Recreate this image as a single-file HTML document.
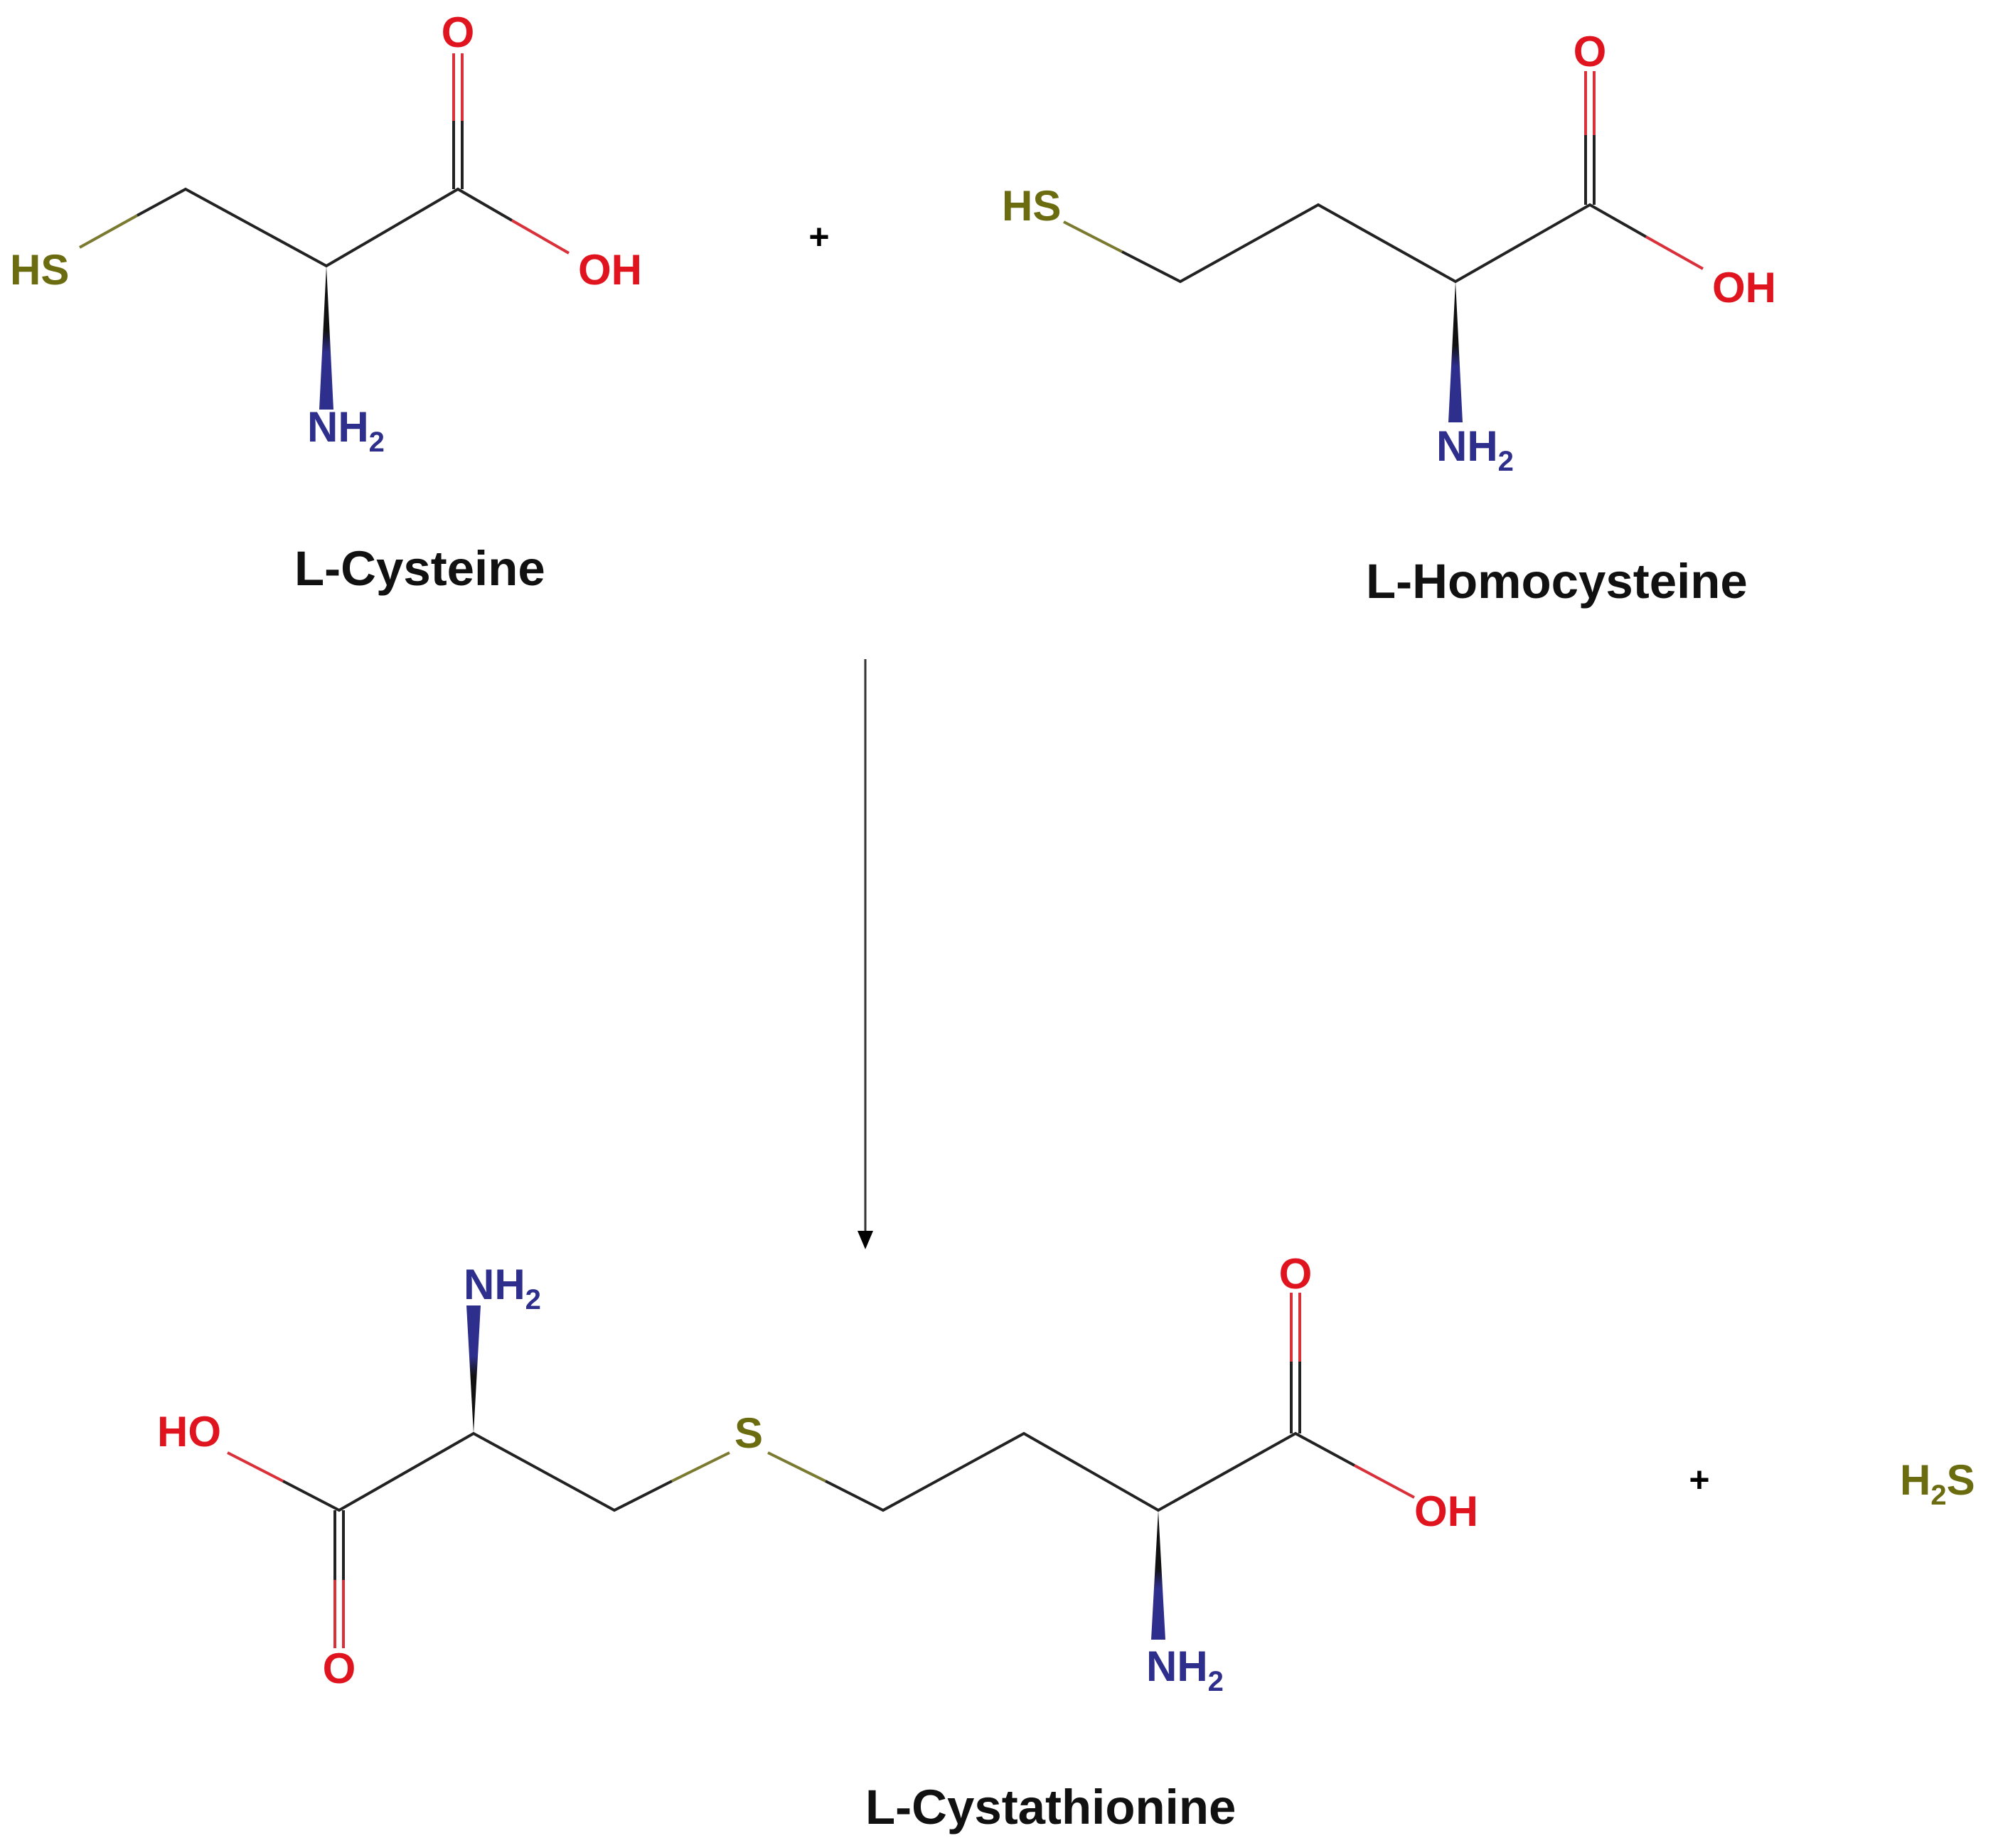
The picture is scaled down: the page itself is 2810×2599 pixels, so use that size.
<!DOCTYPE html>
<html><head><style>
html,body{margin:0;padding:0;background:#fff;}
svg{display:block;}
text{font-family:"Liberation Sans",sans-serif;}
.a{font-size:60px;font-weight:bold;}
.l{font-size:69px;font-weight:bold;fill:#111;}
.s{fill:#6b6b10;} .o{fill:#e0141e;} .n{fill:#2e2e8c;}
.b{stroke:#222;stroke-width:4;fill:none;}
.sb{stroke:#7a7a30;stroke-width:4;}
.ob{stroke:#d9303a;stroke-width:4;}
</style></head><body>
<svg width="2810" height="2599" viewBox="0 0 2810 2599" xmlns="http://www.w3.org/2000/svg">
<defs>
<linearGradient id="wd" x1="0" y1="0" x2="0" y2="1"><stop offset="0" stop-color="#111"/><stop offset="0.45" stop-color="#111"/><stop offset="0.6" stop-color="#2e2e8c"/><stop offset="1" stop-color="#2e2e8c"/></linearGradient>
<linearGradient id="wu" x1="0" y1="1" x2="0" y2="0"><stop offset="0" stop-color="#111"/><stop offset="0.45" stop-color="#111"/><stop offset="0.6" stop-color="#2e2e8c"/><stop offset="1" stop-color="#2e2e8c"/></linearGradient>
</defs>

<!-- L-Cysteine -->
<line class="sb" x1="112" y1="348" x2="193" y2="303"/>
<polyline class="b" points="193,303 261,266 459,374 644,266 720,310"/>
<line class="ob" x1="720" y1="310" x2="800" y2="356"/>
<line class="b" x1="638" y1="266" x2="638" y2="170"/><line class="b" x1="650" y1="266" x2="650" y2="170"/>
<line class="ob" x1="638" y1="170" x2="638" y2="75"/><line class="ob" x1="650" y1="170" x2="650" y2="75"/>
<polygon points="459,374 449,576 469,576" fill="url(#wd)"/>
<text class="a s" x="14" y="400">HS</text>
<text class="a o" x="644" y="66" text-anchor="middle">O</text>
<text class="a o" x="813" y="400">OH</text>
<text class="a n" x="432" y="621">NH<tspan font-size="40" dy="14">2</tspan></text>
<text class="l" x="414" y="823">L-Cysteine</text>

<text x="1152" y="350" font-size="50" font-weight="bold" text-anchor="middle" fill="#000">+</text>

<!-- L-Homocysteine -->
<line class="sb" x1="1496" y1="312" x2="1578" y2="354"/>
<polyline class="b" points="1578,354 1660,396 1854,288 2047,396 2236,288 2315,333"/>
<line class="ob" x1="2315" y1="333" x2="2395" y2="378"/>
<line class="b" x1="2230" y1="288" x2="2230" y2="190"/><line class="b" x1="2242" y1="288" x2="2242" y2="190"/>
<line class="ob" x1="2230" y1="190" x2="2230" y2="100"/><line class="ob" x1="2242" y1="190" x2="2242" y2="100"/>
<polygon points="2047,396 2037,594 2057,594" fill="url(#wd)"/>
<text class="a s" x="1409" y="310">HS</text>
<text class="a o" x="2236" y="93" text-anchor="middle">O</text>
<text class="a o" x="2408" y="425">OH</text>
<text class="a n" x="2020" y="648">NH<tspan font-size="40" dy="14">2</tspan></text>
<text class="l" x="1921" y="841">L-Homocysteine</text>

<!-- arrow -->
<line x1="1217" y1="927" x2="1217" y2="1735" stroke="#333" stroke-width="3"/>
<polygon points="1206,1731 1228,1731 1217,1757" fill="#000"/>

<!-- L-Cystathionine -->
<line class="ob" x1="320" y1="2043" x2="398" y2="2083"/>
<polyline class="b" points="398,2083 477,2124 666,2016 864,2124 945,2083"/>
<line class="sb" x1="945" y1="2083" x2="1026" y2="2043"/>
<line class="sb" x1="1080" y1="2043" x2="1161" y2="2083"/>
<polyline class="b" points="1161,2083 1242,2124 1440,2016 1629,2124 1822,2016 1905,2061"/>
<line class="ob" x1="1905" y1="2061" x2="1989" y2="2106"/>
<line class="b" x1="471" y1="2124" x2="471" y2="2222"/><line class="b" x1="483" y1="2124" x2="483" y2="2222"/>
<line class="ob" x1="471" y1="2222" x2="471" y2="2318"/><line class="ob" x1="483" y1="2222" x2="483" y2="2318"/>
<line class="b" x1="1816" y1="2016" x2="1816" y2="1915"/><line class="b" x1="1828" y1="2016" x2="1828" y2="1915"/>
<line class="ob" x1="1816" y1="1915" x2="1816" y2="1818"/><line class="ob" x1="1828" y1="1915" x2="1828" y2="1818"/>
<polygon points="666,2016 656,1836 676,1836" fill="url(#wu)"/>
<polygon points="1629,2124 1619,2306 1639,2306" fill="url(#wd)"/>
<text class="a n" x="652" y="1827">NH<tspan font-size="40" dy="14">2</tspan></text>
<text class="a o" x="221" y="2034">HO</text>
<text class="a s" x="1053" y="2036" text-anchor="middle">S</text>
<text class="a o" x="477" y="2367" text-anchor="middle">O</text>
<text class="a o" x="1822" y="1812" text-anchor="middle">O</text>
<text class="a o" x="1989" y="2146">OH</text>
<text class="a n" x="1612" y="2364">NH<tspan font-size="40" dy="14">2</tspan></text>
<text class="l" x="1217" y="2565">L-Cystathionine</text>

<text x="2390" y="2098" font-size="50" font-weight="bold" text-anchor="middle" fill="#000">+</text>
<text class="a s" x="2672" y="2102">H<tspan font-size="40" dy="14">2</tspan><tspan dy="-14">S</tspan></text>
</svg>
</body></html>
